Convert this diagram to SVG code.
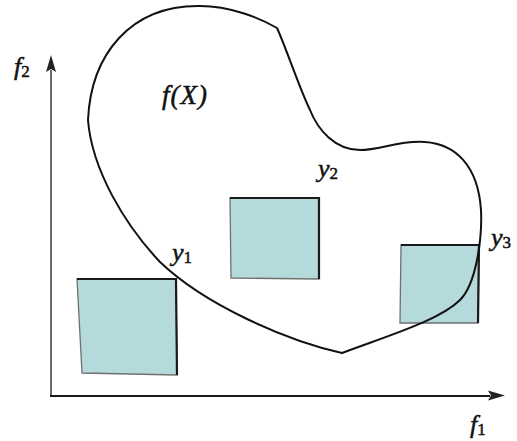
<svg xmlns="http://www.w3.org/2000/svg" width="517" height="441" viewBox="0 0 517 441">
<style>
.sq{fill:#b4dadb;stroke:#707070;stroke-width:1.3}
.edge{fill:none;stroke:#1a1a1a;stroke-width:2.2}
.lab{font-family:"Liberation Serif",serif;fill:#111;stroke:#111;stroke-width:0.5}
.it{font-style:italic}
</style>
<rect width="517" height="441" fill="#fff"/>
<g id="axes">
<line x1="51" y1="397" x2="51" y2="70" stroke="#6a6a6a" stroke-width="2"/>
<polygon points="51,55 46,72 51,69 56,72" fill="#222"/>
<line x1="50" y1="396" x2="490" y2="396" stroke="#1a1a1a" stroke-width="2"/>
<polygon points="505,395.5 488,390.5 491,395.5 488,400.5" fill="#222"/>
</g>
<g id="y1">
<polygon class="sq" points="77,279 176,279 177,375 82,373"/>
<polyline class="edge" points="77,279 176,279 177,375"/>
</g>
<g id="y2">
<polygon class="sq" points="230,198 319,198 319,279 231,278"/>
<polyline class="edge" points="230,198 319,198 319,279"/>
</g>
<g id="y3">
<polygon class="sq" points="401,245 479,245 478,323 400,323"/>
<polyline class="edge" points="401,245 479,245 478,323"/>
</g>
<g id="fX">
<path d="M88,120 C91,55 130,5 200,6 C230,6 260,18 277,28 C285,45 300,90 310,110 C318,130 335,150 360,150 C380,150 400,140 425,142 C455,144 478,165 481,210 C482,230 480,245 477,260 C473,280 468,292 460,300 C440,320 390,335 342,353 C285,340 205,305 160,262 C125,225 92,170 88,120 Z" fill="none" stroke="#111" stroke-width="2"/>
</g>
<g id="labels">
<text class="lab" x="14" y="75" font-size="26"><tspan class="it">f</tspan><tspan font-size="17" dy="2">2</tspan></text>
<text class="lab" x="470" y="433" font-size="26"><tspan class="it">f</tspan><tspan font-size="17" dy="2">1</tspan></text>
<text class="lab it" x="162" y="104" font-size="27" letter-spacing="1">f(X)</text>
<text class="lab" x="172" y="261" font-size="26"><tspan class="it">y</tspan><tspan font-size="17" dy="2">1</tspan></text>
<text class="lab" x="318" y="177" font-size="26"><tspan class="it">y</tspan><tspan font-size="17" dy="2">2</tspan></text>
<text class="lab" x="491" y="246" font-size="26"><tspan class="it">y</tspan><tspan font-size="17" dy="2">3</tspan></text>
</g>
</svg>
